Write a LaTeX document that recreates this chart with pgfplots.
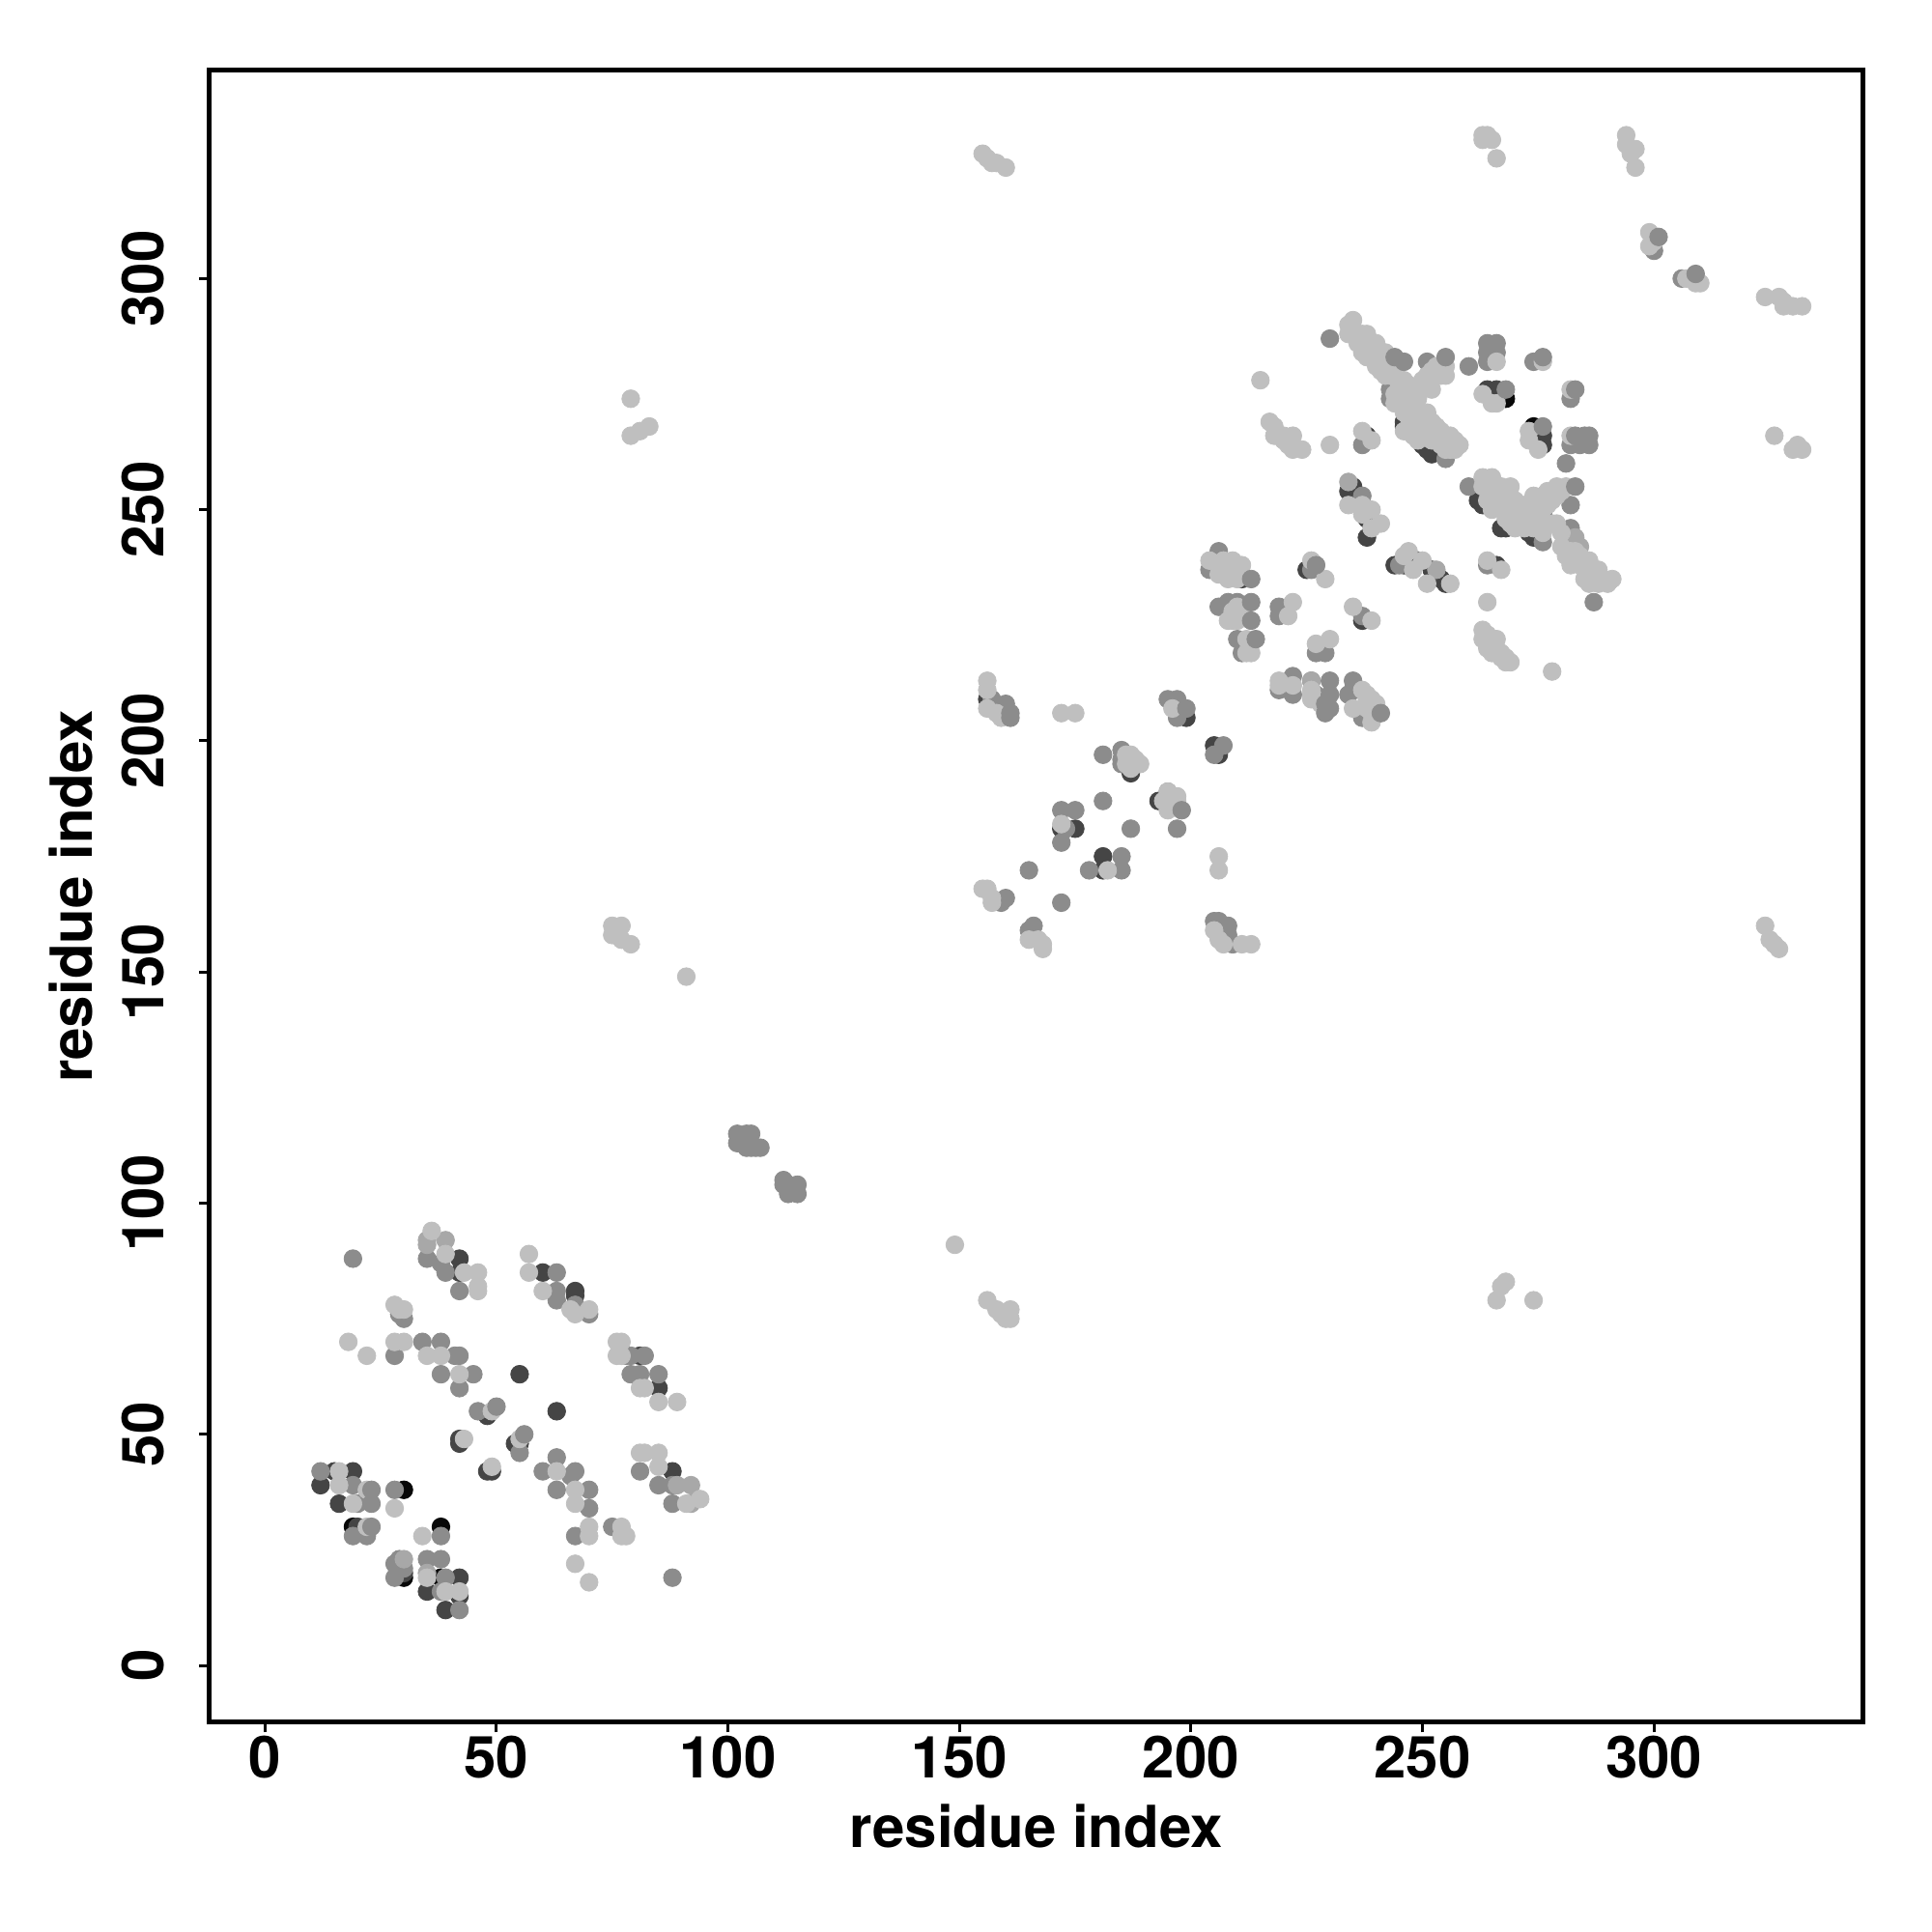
\documentclass[border=0pt]{standalone}
\usepackage{pgfplots}
\pgfplotsset{compat=1.18}
\usepackage{fontspec}
\setmainfont{TeX Gyre Heros}
\definecolor{gblack}{gray}{0.03}
\definecolor{gdark}{gray}{0.27}
\definecolor{gmid}{gray}{0.55}
\definecolor{gml}{gray}{0.66}
\definecolor{glight}{gray}{0.75}
\pgfplotsset{pts/.style={only marks,mark=*,mark size=2.3pt,mark options={line width=0.2pt,draw=#1,fill=#1}}}
\begin{document}
\begin{tikzpicture}[x=1pt,y=1pt]
\path (0,0) rectangle (500,500);
\begin{axis}[
  at={(54.2pt,54.25pt)},anchor=south west,
  scale only axis,width=428pt,height=427.5pt,
  xmin=-12,xmax=345.2,ymin=-12.3,ymax=345,
  xtick={0,50,...,300},ytick={0,50,...,300},
  tick align=outside,tick pos=lower,
  axis line style={line width=1.25pt},
  tick style={line width=0.75pt,black},
  major tick length=2.6pt,
  ticklabel style={font=\fontsize{15}{16}\selectfont\bfseries},
  /pgf/number format/assume math mode=true,
  /pgf/number format/set thousands separator={},
  yticklabel style={rotate=90,anchor=south},
  xticklabel shift=-2.7pt,yticklabel shift=5.6pt,
  xlabel={residue index},ylabel={residue index},
  label style={font=\fontsize{15}{16}\selectfont\bfseries},
  xlabel style={yshift=0.1pt},ylabel style={yshift=0.5pt},
  clip=true,
]
% black
\addplot[pts=gblack] coordinates {(30,38)(19,30)(38,30)(30,19)(38,19)(268,274)(274,268)};
% dark
\addplot[pts=gdark] coordinates {(12,39)(15,42)(19,42)(16,35)(20,30)(30,20)(35,16)(42,19)(42,15)(39,12)
(42,88)(42,85)(60,85)(67,81)(67,80)(55,63)(63,55)(81,67)(85,60)(48,54)(42,48)(42,49)(54,48)(55,48)(48,42)(49,42)(88,42)
(248,276)(246,269)(246,268)(251,263)(250,264)(252,262)(264,276)(265,275)(266,276)(266,274)(276,266)(276,264)(274,266)(238,266)
(262,252)(263,251)(268,246)(267,246)(276,249)(273,245)(274,244)(266,238)(244,238)(246,238)(249,239)(252,237)(254,235)(255,234)
(235,255)(234,254)(238,248)(238,244)(225,237)(237,226)(235,211)(211,235)(199,205)(205,199)(206,197)(187,193)(193,187)(172,181)(175,181)(181,175)(181,172)(156,209)};
% mid
\addplot[pts=gmid] coordinates {(19,88)(35,88)(39,85)(38,87)(42,81)(63,81)(63,79)(67,78)(30,75)(29,76)(28,67)(34,70)(38,70)(41,67)(42,67)(38,63)(45,63)(42,60)
(78,67)(79,67)(79,63)(81,63)(46,55)(55,46)(63,45)(60,42)(66,41)(67,42)(63,38)(70,38)(70,34)(81,42)(85,39)(88,39)(88,35)
(12,42)(19,39)(20,35)(28,38)(19,28)(22,28)(38,28)(28,22)(29,23)(28,19)(30,21)(35,23)(38,23)(39,19)(38,16)(42,12)(67,28)(75,30)(88,19)(70,76)
(102,113)(102,115)(103,113)(104,115)(105,115)(104,112)(105,112)(106,112)(107,112)(112,105)(112,104)(113,104)(113,102)(115,104)(115,102)(114,103)
(230,287)(251,282)(260,281)(264,286)(266,286)(264,284)(266,284)(264,282)(274,282)(243,276)(243,274)(282,274)(282,264)(284,264)(286,264)(281,260)(255,261)(260,255)
(282,251)(276,243)(282,246)(287,230)(264,238)(245,238)(237,253)(237,264)(227,238)(226,237)(237,227)(227,219)(229,219)(222,214)(226,213)(219,211)(222,210)(227,210)(235,213)(234,210)(237,205)
(206,241)(204,237)(206,229)(208,230)(210,230)(210,222)(211,219)(219,229)(219,227)(195,209)(197,209)(197,205)(207,199)(205,197)(197,181)
(181,197)(185,198)(185,196)(185,195)(181,187)(187,181)(172,185)(175,185)(173,181)(172,178)(185,175)(178,172)(185,172)(165,172)(172,165)(159,165)(160,166)(166,160)(165,159)(157,209)(160,208)(205,161)(206,161)(208,160)(208,158)(209,156)(300,306)(306,300)(195,189)};
% mid-light
\addplot[pts=gml] coordinates {(35,92)(35,91)(39,92)(89,39)(92,39)(92,35)(35,20)(30,23)(284,242)(283,244)(226,213)(234,256)(253,237)};
% light
\addplot[pts=glight] coordinates {(36,94)(39,89)(43,85)(46,85)(46,82)(46,81)(57,89)(57,85)(60,81)(66,77)(67,76)(70,77)
(28,78)(29,77)(30,77)(18,70)(22,67)(28,70)(30,70)(35,67)(38,67)(42,63)(76,70)(77,70)(76,67)(77,67)(81,60)(82,60)(85,57)(89,57)
(49,55)(43,49)(55,49)(49,43)(63,42)(67,38)(67,35)(81,46)(82,46)(85,46)(85,43)(91,35)(94,36)
(16,42)(16,39)(19,35)(22,38)(28,34)(22,30)(34,28)(35,19)(39,16)(42,16)(70,30)(70,28)(77,30)(77,28)(78,28)(67,22)(70,18)
(79,274)(79,266)(81,267)(83,268)(75,160)(77,160)(75,158)(77,157)(79,156)(91,149)(149,91)(156,79)(158,77)(159,76)(160,75)(161,75)(161,77)
(155,327)(156,326)(157,325)(158,325)(160,324)(263,331)(264,331)(263,330)(265,330)(266,326)(294,331)(294,329)(295,327)(296,328)(296,324)
(299,310)(299,307)(300,308)(307,300)(308,300)(310,299)(309,299)(324,296)(327,296)(328,295)(328,294)(330,294)(332,294)(326,266)(331,264)(330,263)(332,263)
(324,160)(325,157)(326,156)(327,155)(268,83)(267,82)(266,79)(274,79)(215,278)
(217,269)(218,268)(218,266)(220,266)(222,266)(220,265)(221,264)(222,263)(224,263)(230,264)
(235,291)(234,290)(234,288)(237,288)(237,287)(238,286)(237,284)(239,285)(238,283)(240,284)(240,281)(242,284)(241,280)(244,281)(266,282)(276,282)(255,281)(255,279)(253,279)(252,278)(251,277)(250,276)(249,275)(249,274)
(244,275)(245,277)(245,274)(244,273)(246,276)(246,271)(246,267)(248,271)(252,269)(253,268)(254,267)(255,266)(257,265)(257,263)(248,266)(249,265)(250,270)(251,267)(252,265)(254,264)(255,263)
(263,275)(265,273)(266,273)(282,276)(273,267)(273,265)(275,263)(282,266)(237,267)(239,265)
(263,257)(265,257)(263,255)(267,255)(265,254)(268,253)(269,251)(271,249)(264,252)(265,250)(268,248)(270,246)(269,247)(281,255)(279,255)(278,254)(276,253)(275,252)(274,251)(276,250)(273,250)(272,249)(276,245)(274,246)(280,245)(280,242)(281,240)(282,238)(285,239)(286,239)(288,237)(289,235)(291,235)(287,235)(286,234)
(264,239)(267,237)(264,230)(263,224)(263,222)(265,222)(266,222)(264,220)(265,219)(267,218)(268,217)(269,217)(278,215)
(247,241)(246,240)(250,239)(248,237)(251,234)(256,234)(234,251)(237,251)(239,250)(241,247)(237,249)(239,246)(226,239)(229,235)(235,229)(239,226)(222,230)(221,227)(227,221)(230,222)
(204,239)(207,239)(209,239)(211,238)(207,237)(209,236)(210,229)(208,226)(210,226)(211,228)(212,222)(213,219)(212,219)(219,213)(219,212)(222,212)(226,211)(226,209)(237,211)(238,210)(239,209)(235,207)(239,204)(238,207)(196,207)
(206,175)(206,172)(156,213)(156,211)(156,207)(159,205)(158,206)(172,206)(175,206)(186,197)(187,197)(188,196)(189,195)(187,194)(195,189)(196,188)(194,187)(196,186)(195,185)(172,182)(182,172)
(155,168)(156,168)(157,166)(157,165)(165,157)(167,157)(168,156)(168,155)(205,159)(206,157)(207,156)(211,156)(213,156)
(246,278)(247,275)(248,273)(247,270)(246,273)(247,277)(248,268)(250,268)(249,270)(251,271)(253,266)(254,265)(256,263)(256,266)(258,264)
(250,278)(251,279)(252,280)(253,281)(254,279)(252,276)
(264,256)(266,255)(266,253)(267,252)(268,250)(270,249)(270,252)(269,255)(271,248)(272,247)(272,251)(273,248)(274,248)(275,249)(277,251)(278,252)(279,253)(280,254)(277,254)(274,253)(275,247)(272,246)(276,247)(278,247)(279,247)
(282,241)(283,239)(284,238)(283,241)(284,240)(286,237)(287,237)(288,235)(285,235)(288,234)(290,234)
(235,289)(236,288)(236,286)(238,288)(239,284)(240,286)(241,283)(242,281)(243,280)(243,282)(242,279)(243,279)
(206,238)(208,238)(206,236)(208,236)(210,237)(208,235)(210,235)(209,228)(209,227)(210,227)(209,226)(226,210)(227,209)(228,208)(238,209)(238,208)(239,207)(240,208)(239,206)
(264,223)(264,221)(266,220)(266,219)(267,219)(268,218)(187,196)(186,195)(187,195)(188,195)(195,188)(195,186)(196,187)(197,187)(197,188)};
% mid on top
\addplot[pts=gmid] coordinates {(63,85)(50,56)(56,50)(82,67)(85,63)(246,282)(244,283)(255,283)(276,283)(268,276)(283,276)(276,268)(283,255)(283,266)(285,266)(286,266)
(213,235)(213,230)(213,226)(214,222)(241,206)(199,207)(198,185)(161,206)(161,205)(229,206)(229,208)(230,207)(230,210)(230,213)(227,238)(301,309)(309,301)(23,38)(23,35)(23,30)};
\end{axis}
\end{tikzpicture}
\end{document}
